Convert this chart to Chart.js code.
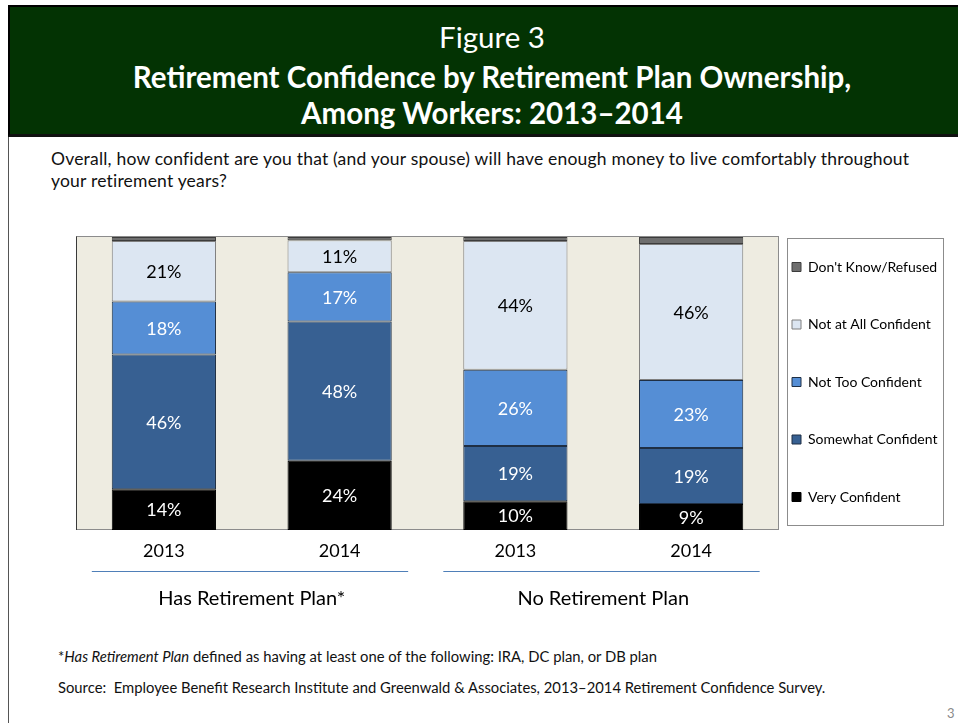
<!DOCTYPE html>
<html>
<head>
<meta charset="utf-8">
<script src="https://cdn.jsdelivr.net/npm/chart.js@4.4.1/dist/chart.umd.min.js"></script>
<style>
  html, body { margin:0; padding:0; background:#fff; }
  body { width:958px; height:723px; position:relative; overflow:hidden; font-family:Lato, "Open Sans", sans-serif; color:#000; }
  #slideEdge { position:absolute; left:8px; top:6px; width:0; height:717px; border-left:1px solid #555; }
  #header { position:absolute; left:8px; top:5px; width:952px; height:127px; background:#033303; border-top:2px solid #000; border-left:2px solid #000; border-bottom:3px solid #111; }
  .hline { position:absolute; left:0; width:964px; text-align:center; color:#fff; white-space:nowrap; }
  #question { position:absolute; left:51px; top:148px; font-size:17.5px; letter-spacing:0.2px; line-height:22px; color:#111; white-space:nowrap; }
  #chartBox { position:absolute; left:0; top:227px; width:958px; height:396px; }
  .note { position:absolute; left:58px; font-size:14.8px; color:#111; white-space:nowrap; }
  #pageNum { position:absolute; left:947px; top:705px; font-size:13px; color:#8a8a8a; }
</style>
</head>
<body>
<div id="slideEdge"></div>
<div id="header">
  <div class="hline" style="top:12px;font-size:29.5px;">Figure 3</div>
  <div class="hline" style="top:52px;font-size:29.5px;font-weight:bold;">Retirement Confidence by Retirement Plan Ownership,</div>
  <div class="hline" style="top:88px;font-size:29.5px;font-weight:bold;">Among Workers: 2013–2014</div>
</div>
<div id="question">Overall, how confident are you that (and your spouse) will have enough money to live comfortably throughout<br>your retirement years?</div>
<div id="chartBox"><canvas id="chart" width="958" height="396"></canvas></div>
<div class="note" style="top:647px;">*<i>Has Retirement Plan</i> defined as having at least one of the following: IRA, DC plan, or DB plan</div>
<div class="note" style="top:678px;">Source:&nbsp; Employee Benefit Research Institute and Greenwald &amp; Associates, 2013–2014 Retirement Confidence Survey.</div>
<div id="pageNum">3</div>

<script>
// Categories
const years = ['2013', '2014', '2013', '2014'];
const groups = ['Has Retirement Plan*', 'No Retirement Plan'];

// Series values (percent), bottom to top of each stack
const veryConfident     = [13.9, 23.6,  9.8,  8.9];
const somewhatConfident = [46.0, 47.6, 18.9, 19.1];
const notTooConfident   = [18.1, 16.8, 26.0, 23.2];
const notAtAllConfident = [20.6, 10.9, 43.9, 46.4];
const dontKnowRefused   = [ 1.4,  1.1,  1.4,  2.4];

const seriesNames = ['Very Confident', 'Somewhat Confident', 'Not Too Confident', 'Not at All Confident', "Don't Know/Refused"];

const FONT = 'Lato, "Open Sans", sans-serif';

// beige plot background + frame
const plotFrame = {
  id: 'plotFrame',
  beforeDatasetsDraw(chart) {
    const {ctx, chartArea: a} = chart;
    ctx.save();
    ctx.fillStyle = '#EEECE1';
    ctx.fillRect(a.left, a.top, a.width, a.height);
    ctx.strokeStyle = '#8c8c8c';
    ctx.lineWidth = 1;
    ctx.strokeRect(a.left + 0.5, a.top - 0.5, a.width - 1, a.height);
    ctx.strokeStyle = '#3a3a3a';
    ctx.beginPath();
    ctx.moveTo(a.left + 0.5, a.top - 0.5);
    ctx.lineTo(a.left + 0.5, a.bottom);
    ctx.stroke();
    ctx.restore();
  },
  afterDraw(chart) {
    const {ctx, chartArea: a, legend} = chart;
    const x = chart.scales.x;
    ctx.save();
    // legend border
    ctx.strokeStyle = '#8c8c8c';
    ctx.lineWidth = 1;
    ctx.strokeRect(Math.round(legend.left + 8) + 0.5, Math.round(a.top + 1) + 0.5, 156, 287);
    // group underlines
    const cw = x.getPixelForValue(1) - x.getPixelForValue(0);
    ctx.strokeStyle = '#4f7fb8';
    ctx.lineWidth = 1;
    const ly = Math.round(x.bottom) + 0.5;
    [[0, 1], [2, 3]].forEach(([i, j]) => {
      ctx.beginPath();
      ctx.moveTo(x.getPixelForValue(i) - 0.41 * cw, ly);
      ctx.lineTo(x.getPixelForValue(j) + 0.39 * cw, ly);
      ctx.stroke();
    });
    ctx.restore();
  }
};

// percent labels inside segments
const segmentLabels = {
  id: 'segmentLabels',
  afterDatasetsDraw(chart) {
    const {ctx} = chart;
    ctx.save();
    ctx.font = '18px ' + FONT;
    ctx.textAlign = 'center';
    ctx.textBaseline = 'middle';
    chart.data.datasets.forEach((ds, di) => {
      if (di === 4) return;
      const meta = chart.getDatasetMeta(di);
      meta.data.forEach((bar, i) => {
        const {x, y, base} = bar.getProps(['x', 'y', 'base'], true);
        ctx.fillStyle = di === 3 ? '#000' : '#fff';
        ctx.fillText(Math.round(ds.data[i]) + '%', x, (y + base) / 2 + 1);
      });
    });
    ctx.restore();
  }
};

const colors  = ['#000000', '#376092', '#558ED5', '#DCE6F2', '#6e6e6e'];
const borders = ['#000000', '#1f2f44', '#1f2f44', '#7f7f7f', '#3c3c3c'];
const values  = [veryConfident, somewhatConfident, notTooConfident, notAtAllConfident, dontKnowRefused];

new Chart(document.getElementById('chart'), {
  type: 'bar',
  data: {
    labels: years,
    datasets: values.map((v, i) => ({
      label: seriesNames[i],
      data: v,
      backgroundColor: colors[i],
      borderColor: borders[i],
      borderWidth: 1,
      borderSkipped: false,
      categoryPercentage: 1,
      barPercentage: 0.593
    }))
  },
  options: {
    responsive: false,
    animation: false,
    layout: { padding: { left: 76, right: 19, top: 10, bottom: 2 } },
    plugins: {
      tooltip: { enabled: false },
      legend: {
        position: 'right',
        align: 'start',
        reverse: true,
        maxWidth: 160,
        title: { display: true, text: ' ', font: { size: 10, lineHeight: 1 }, padding: 0 },
        labels: {
          color: '#000',
          boxWidth: 9,
          boxHeight: 9,
          padding: 13,
          font: { family: FONT, size: 14, lineHeight: 44.5 / 14 },
          generateLabels(chart) {
            return Chart.defaults.plugins.legend.labels.generateLabels(chart)
              .map(l => Object.assign(l, { text: [l.text] }));
          }
        }
      }
    },
    scales: {
      x: {
        stacked: true,
        weight: 0,
        grid: { display: false, drawTicks: false },
        border: { display: false },
        ticks: { color: '#000', padding: 10, font: { family: FONT, size: 18 } },
        afterFit(s) { s.height = 41; }
      },
      x2: {
        type: 'category',
        position: 'bottom',
        labels: groups,
        offset: true,
        weight: 1,
        grid: { display: false, drawTicks: false },
        border: { display: false },
        ticks: { color: '#000', padding: 16, font: { family: FONT, size: 20 } },
        afterFit(s) { s.height = 50; }
      },
      y: {
        stacked: true,
        display: false,
        min: 0,
        max: 100
      }
    }
  },
  plugins: [plotFrame, segmentLabels]
});
</script>
</body>
</html>
